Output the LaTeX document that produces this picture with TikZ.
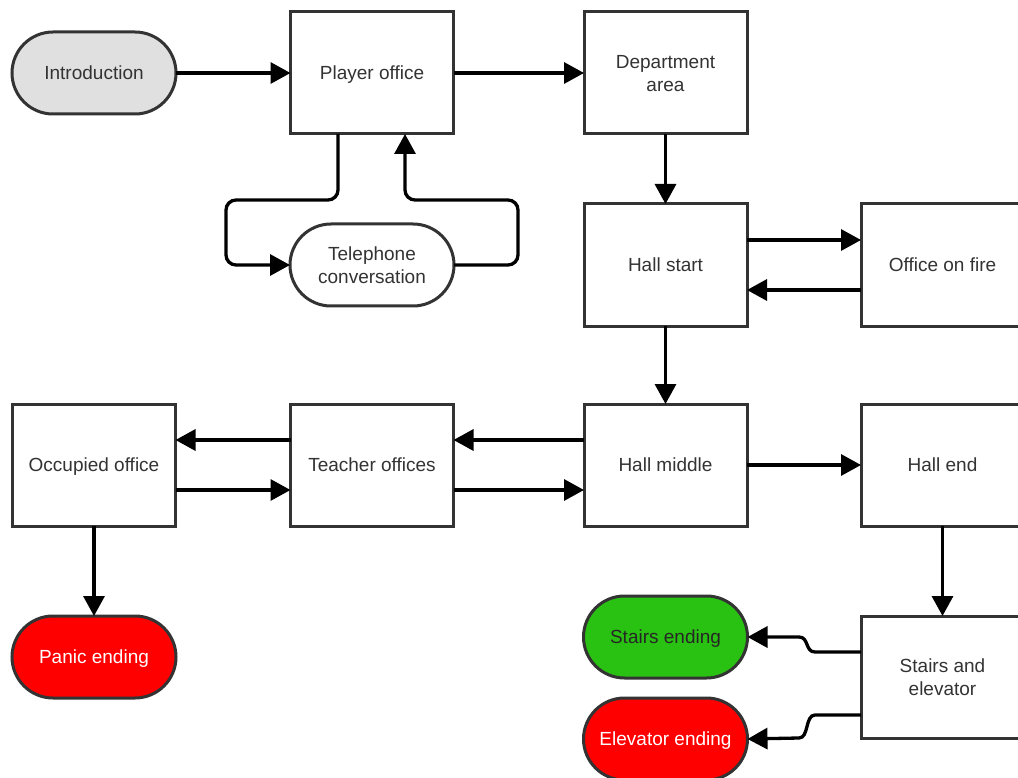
\documentclass[tikz,border=0pt]{standalone}
\usepackage{fontspec}
\setmainfont{Liberation Sans}
\usetikzlibrary{arrows.meta,calc}
\definecolor{bordc}{HTML}{333333}
\definecolor{introc}{HTML}{E0E0E0}
\definecolor{redc}{HTML}{FF0000}
\definecolor{greenc}{HTML}{2AC212}
\begin{document}
\begin{tikzpicture}[x=1pt,y=-1pt,
  every node/.style={font=\fontsize{19}{23}\selectfont, text=bordc, align=center, text height=13.6pt, text depth=0pt},
  twoline/.style={text height=36.6pt},
  box/.style={draw=bordc, line width=3pt, fill=white, minimum width=163pt, minimum height=122pt, inner sep=0pt, outer sep=0pt},
  pill/.style={draw=bordc, line width=3pt, fill=white, minimum width=164pt, minimum height=82pt, rounded corners=41pt, inner sep=0pt, outer sep=0pt},
  conn/.style={line width=3.3pt, black, -{Triangle[length=20pt,width=21pt]}},
]
\useasboundingbox (0,0) rectangle (1018,778);
\clip (0,0) rectangle (1018,778);
\node[pill, fill=introc] (intro) at (94,73) {Introduction};
\node[box] (player) at (372,73) {Player office};
\node[box, twoline] (dept) at (665.5,73) {Department\\area};
\node[pill, twoline] (tel) at (372,265) {Telephone\\conversation};
\node[box] (hstart) at (665.5,265) {Hall start};
\node[box] (fire) at (942.5,265) {Office on fire};
\node[box] (occ) at (94,465) {Occupied office};
\node[box] (teach) at (372,465) {Teacher offices};
\node[box] (hmid) at (665.5,465) {Hall middle};
\node[box] (hend) at (942.5,465) {Hall end};
\node[pill, fill=redc, text=white] (panic) at (94,657) {Panic ending};
\node[pill, fill=greenc, text=black!85] (stairs) at (665.5,637) {Stairs ending};
\node[pill, fill=redc, text=white] (elev) at (665.5,739) {Elevator ending};
\node[box, twoline] (se) at (942.5,677) {Stairs and\\elevator};

\draw[conn] (intro) -- (player);
\draw[conn] (player) -- (dept);
\draw[conn] (dept) -- (hstart);
\draw[conn, rounded corners=10pt] ([xshift=-34pt]player.south) -- ++(0,66) -| ++(-112,65) -- (tel.west);
\draw[conn, rounded corners=10pt] (tel.east) -| ++(64,-65) -| ([xshift=33pt]player.south);
\draw[conn] ([yshift=25pt]hstart.east) -- ([yshift=25pt]fire.west);
\draw[conn] ([yshift=-25pt]fire.west) -- ([yshift=-25pt]hstart.east);
\draw[conn] (hstart) -- (hmid);
\draw[conn] ([yshift=25pt]hmid.west) -- ([yshift=25pt]teach.east);
\draw[conn] ([yshift=-25pt]teach.east) -- ([yshift=-25pt]hmid.west);
\draw[conn] ([yshift=25pt]teach.west) -- ([yshift=25pt]occ.east);
\draw[conn] ([yshift=-25pt]occ.east) -- ([yshift=-25pt]teach.west);
\draw[conn] (hmid) -- (hend);
\draw[conn] (occ) -- (panic);
\draw[conn] (hend) -- (se);
\coordinate (sa) at ([yshift=25pt]se.west);
\coordinate (sb) at ([yshift=-38pt]se.west);
\draw[conn] (sa) -- ++(-46,0) .. controls ++(-10,0) and ++(10,0) .. ++(-16,-15) -- (stairs.east);
\draw[conn] (sb) -- ++(-46,0) .. controls ++(-10,0) and ++(10,0) .. ++(-16,23) -- (elev.east);
\end{tikzpicture}
\end{document}
